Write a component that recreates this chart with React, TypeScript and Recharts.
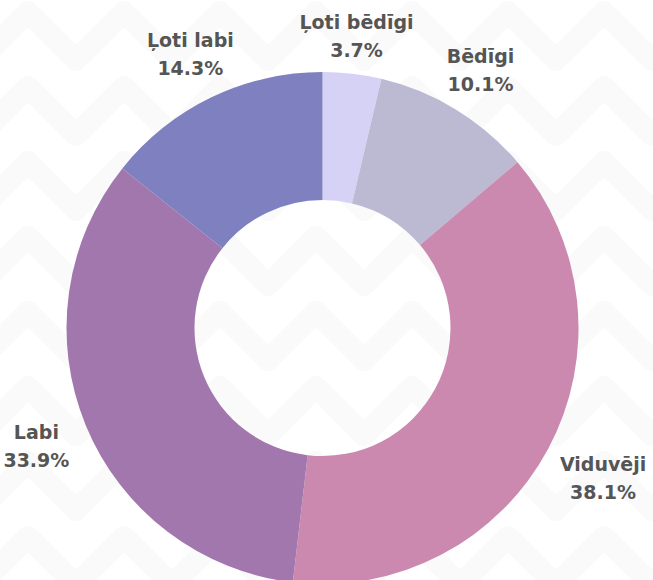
import React from "react";
import { PieChart, Pie, Cell } from "recharts";

const categories = ["Ļoti bēdīgi", "Bēdīgi", "Viduvēji", "Labi", "Ļoti labi"];
const shares = [3.7, 10.1, 38.1, 33.9, 14.3];
const colors = ["#d5d2f5", "#bcb9d3", "#cb89b0", "#a277ad", "#7e80c0"];

const data = categories.map((name, i) => ({ name, value: shares[i] }));

const RAD = Math.PI / 180;
const FONT = "700 19px 'DejaVu Sans'";

let ctx: CanvasRenderingContext2D | null = null;
const textWidth = (s: string) => {
  if (!ctx) ctx = document.createElement("canvas").getContext("2d");
  if (!ctx) return s.length * 11;
  ctx.font = FONT;
  return ctx.measureText(s).width;
};

const renderLabel = (props: any) => {
  const { cx, cy, midAngle, outerRadius, name, value } = props;
  const pct = `${value.toFixed(1)}%`;
  const halfW = Math.max(textWidth(name), textWidth(pct)) / 2;
  const c = Math.cos(-midAngle * RAD);
  const s = Math.sin(-midAngle * RAD);
  const r = outerRadius + 18 + halfW * Math.abs(c) + 13 * Math.abs(s);
  const x = cx + r * c;
  const y = cy + r * s;
  return (
    <text
      x={x}
      y={y}
      textAnchor="middle"
      fill="#555555"
      fontFamily="'DejaVu Sans', sans-serif"
      fontWeight={700}
      fontSize={19}
    >
      <tspan x={x} dy={-7}>{name}</tspan>
      <tspan x={x} dy={28}>{pct}</tspan>
    </text>
  );
};

function Watermark() {
  const rows = [];
  for (let row = 0; row < 9; row++) {
    const y = 30 + row * 75;
    let d = "";
    for (let k = 0; k < 8; k++) {
      const x0 = -20 + k * 96;
      d += `M${x0},${y + 30} L${x0 + 48},${y - 18} L${x0 + 96},${y + 30} `;
    }
    rows.push(
      <path key={row} d={d} fill="none" stroke="#fafafa" strokeWidth={22} strokeLinejoin="round" strokeLinecap="round" />
    );
  }
  return (
    <svg width={653} height={580} style={{ position: "absolute", left: 0, top: 0 }}>
      {rows}
    </svg>
  );
}

export default function App() {
  return (
    <div style={{ position: "absolute", left: 0, top: 0, width: 653, height: 580, background: "#ffffff", overflow: "hidden" }}>
      <Watermark />
      <div style={{ position: "absolute", left: 0, top: 0 }}>
        <PieChart width={653} height={580} margin={{ top: 0, right: 0, bottom: 0, left: 0 }}>
          <Pie
            data={data}
            dataKey="value"
            nameKey="name"
            cx={322.5}
            cy={328}
            innerRadius={128}
            outerRadius={256}
            startAngle={90}
            endAngle={-270}
            stroke="none"
            label={renderLabel}
            labelLine={false}
            isAnimationActive={false}
          >
            {data.map((d, i) => (
              <Cell key={d.name} fill={colors[i]} />
            ))}
          </Pie>
        </PieChart>
      </div>
    </div>
  );
}
